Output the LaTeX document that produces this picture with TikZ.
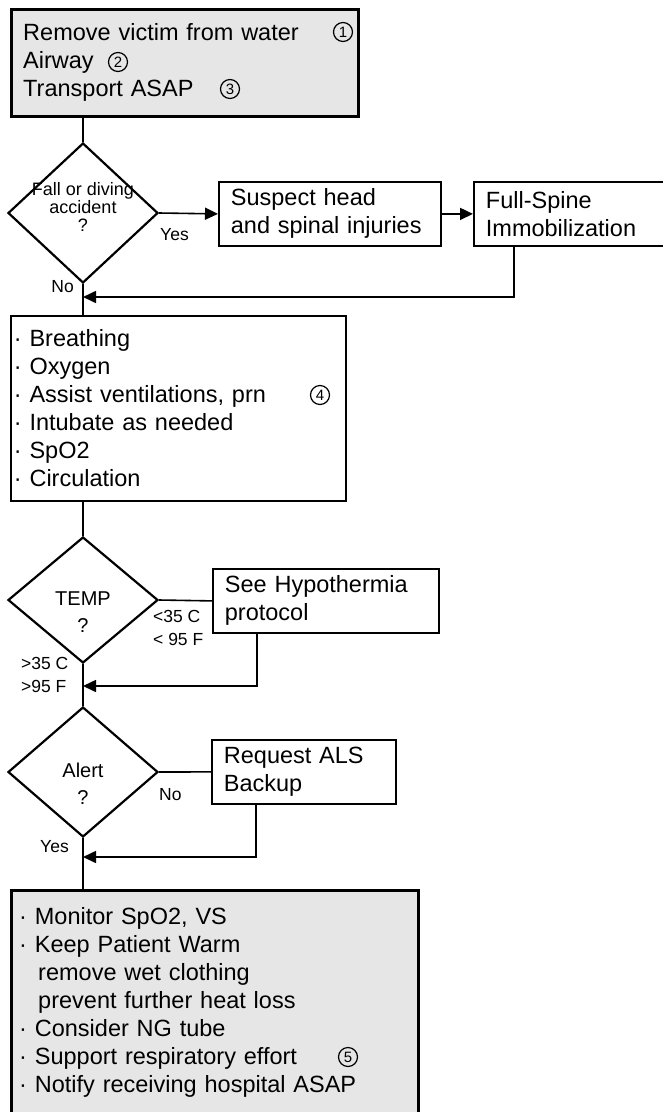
\documentclass[tikz,border=0pt]{standalone}
\usepackage{fontspec}
\setmainfont{Liberation Sans}
\usetikzlibrary{arrows.meta,positioning,shapes.geometric}
\definecolor{boxgray}{RGB}{230,230,230}
\newcommand{\bigtxt}{\fontsize{23.5}{28}\selectfont}

\begin{document}
\begin{tikzpicture}[x=1pt,y=-1pt,
    graybox/.style={draw,fill=boxgray,line width=2.5pt,anchor=north west,align=left,inner xsep=12pt,font=\bigtxt},
    plainbox/.style={draw,line width=1.8pt,anchor=north west,align=left,inner xsep=12pt,font=\bigtxt,minimum height=64pt},
    decision/.style={draw,diamond,line width=2.2pt,minimum width=150pt,inner sep=0pt},
    dtext/.style={align=center,inner sep=0pt,font=\fontsize{20}{27}\selectfont},
    tag/.style={align=left,inner sep=0pt,font=\fontsize{17.5}{23.5}\selectfont},
    num/.style={draw,circle,line width=1.2pt,minimum size=19pt,inner sep=0pt,font=\fontsize{15}{15}\selectfont},
    line/.style={line width=1.6pt},
    arrow/.style={line,-{Triangle[length=13pt,width=12pt]}}]
    \useasboundingbox (0,0) rectangle (663,1112);
    % first aid
    \node[graybox,text width=323pt,minimum height=107pt] (start) at (10,8) {Remove victim from water\\Airway\\Transport ASAP};
    \node[num] (n1) at (343,32) {1};
    \node[num] (n2) at (118,62) {2};
    \node[num] (n3) at (230,89) {3};
    % spine check
    \node[decision,minimum height=140pt] (fall) at (83,213) {};
    \node[dtext,font=\fontsize{18}{18}\selectfont] (fallq) at (83,207) {Fall or diving\\accident\\?};
    \node[plainbox,text width=198pt] (suspect) at (218,181) {Suspect head\\and spinal injuries};
    \node[plainbox,text width=186pt] (spine) at (473,181) {Full-Spine\\Immobilization};
    \node[tag,anchor=west] (yes1) at (160,235) {Yes};
    \node[tag,anchor=east] (no1) at (74,287) {No};
    \coordinate (join1) at (83,297);
    % breathing
    \node[plainbox,text width=329pt,inner xsep=3pt,minimum height=185pt] (care) at (10,315) {· Breathing\\· Oxygen\\· Assist ventilations, prn\\· Intubate as needed\\· SpO2\\· Circulation};
    \node[num] (n4) at (320,395) {4};
    % temperature
    \node[decision,minimum height=126pt] (temp) at (83,600) {};
    \node[dtext] (tempq) at (83,612) {TEMP\\?};
    \node[plainbox,text width=202pt] (hypo) at (212,568) {See Hypothermia\\protocol};
    \node[tag,anchor=west] (cold) at (153,628) {<35 C\\< 95 F};
    \node[tag,anchor=west] (warm) at (21,675) {>35 C\\>95 F};
    \coordinate (join2) at (83,686);
    % alert
    \node[decision,minimum height=130pt] (alert) at (83,772) {};
    \node[dtext] (alertq) at (83,784) {Alert\\?};
    \node[plainbox,text width=160pt] (als) at (211,739) {Request ALS\\Backup};
    \node[tag,anchor=west] (no2) at (159,795) {No};
    \node[tag,anchor=west] (yes2) at (40,847) {Yes};
    \coordinate (join3) at (83,857);
    % transport care
    \node[graybox,text width=391pt,inner xsep=8pt,inner ysep=17pt] (final) at (10,889) {· Monitor SpO2, VS\\· Keep Patient Warm\\\hspace*{19pt}remove wet clothing\\\hspace*{19pt}prevent further heat loss\\· Consider NG tube\\· Support respiratory effort\\· Notify receiving hospital ASAP\rule[-20pt]{0pt}{0pt}};
    \node[num] (n5) at (348,1057) {5};
    % connectors
    \draw[line] (fall.north |- start.south) -- (fall.north);
    \draw[arrow] (fall.east) -- (suspect.west);
    \draw[arrow] (suspect.east) -- (spine.west);
    \draw[arrow] ([xshift=41pt]spine.south west) |- (join1);
    \draw[line] (fall.south) -- (fall.south |- care.north);
    \draw[line] (temp.north |- care.south) -- (temp.north);
    \draw[line] (temp.east) -- (hypo.west);
    \draw[arrow] ([xshift=45pt]hypo.south west) |- (join2);
    \draw[line] (temp.south) -- (alert.north);
    \draw[line] (alert.east) -- (als.west);
    \draw[arrow] ([xshift=45pt]als.south west) |- (join3);
    \draw[line] (alert.south) -- (alert.south |- final.north);
\end{tikzpicture}
\end{document}
